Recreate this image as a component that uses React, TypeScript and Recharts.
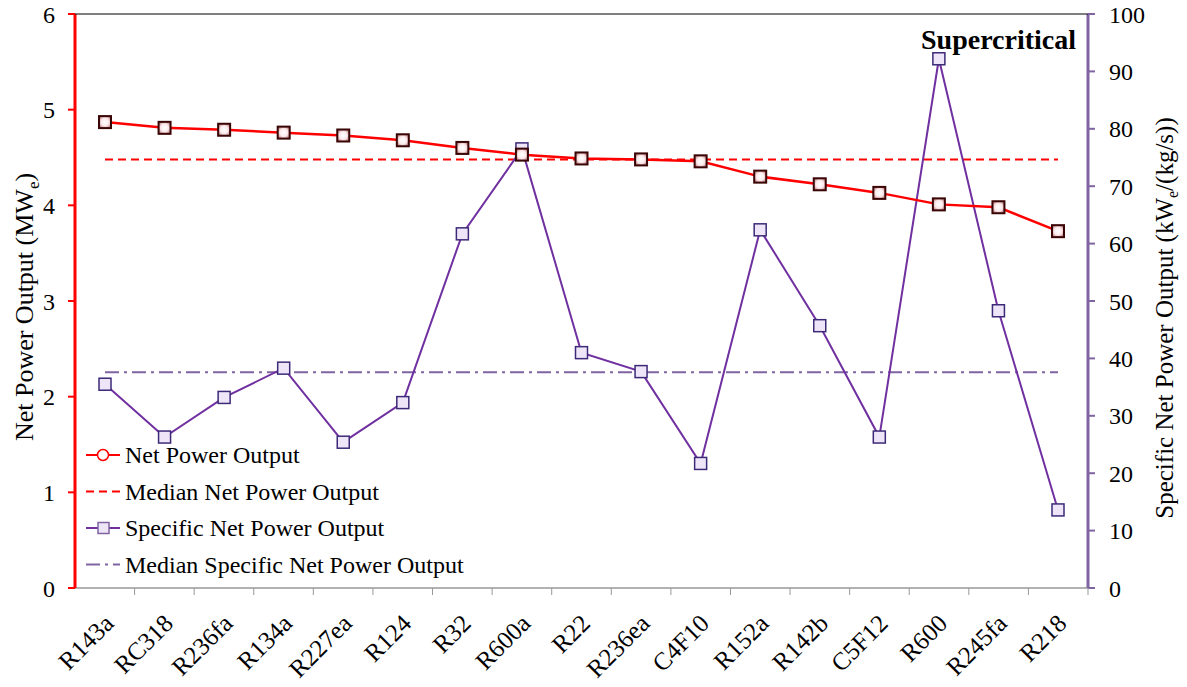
import React from 'react';
import { ComposedChart, Line, XAxis, YAxis } from 'recharts';

const categories = ['R143a','RC318','R236fa','R134a','R227ea','R124','R32','R600a','R22','R236ea','C4F10','R152a','R142b','C5F12','R600','R245fa','R218'];
const netPower = [4.87,4.81,4.79,4.76,4.73,4.68,4.60,4.53,4.49,4.48,4.46,4.30,4.22,4.13,4.01,3.98,3.73];
const specificPower = [35.5,26.3,33.2,38.3,25.4,32.3,61.7,76.5,41.0,37.7,21.7,62.4,45.7,26.3,92.2,48.3,13.6];
const medianNet = 4.48;
const medianSpecific = 37.6;
const leftTicks = [0,1,2,3,4,5,6];
const rightTicks = [0,10,20,30,40,50,60,70,80,90,100];
const legendLabels = ['Net Power Output', 'Median Net Power Output', 'Specific Net Power Output', 'Median Specific Net Power Output'];

const data = categories.map((c, i) => ({
  name: c,
  net: netPower[i],
  spec: specificPower[i],
  medNet: medianNet,
  medSpec: medianSpecific,
}));

const FONT = '"Liberation Serif", "Times New Roman", serif';
const RED = '#FF0000';
const PURPLE = '#7030A0';
const LAV = '#8064A2';

const NetDot = (props: any) => {
  const { cx, cy, index } = props;
  if (cx == null || cy == null) return null;
  return (
    <rect key={`n${index}`} x={cx - 6} y={cy - 6} width={12} height={12} fill="url(#netGrad)" stroke="#3a0505" strokeWidth={2} />
  );
};
const SpecDot = (props: any) => {
  const { cx, cy, index } = props;
  if (cx == null || cy == null) return null;
  return (
    <rect key={`s${index}`} x={cx - 6} y={cy - 6} width={12} height={12} fill="#EEE6F8" stroke="#3c2a78" strokeWidth={1.5} />
  );
};

const XTick = (props: any) => {
  const { x, y, payload } = props;
  const ax = x + 10;
  const ay = y + 29;
  return (
    <text x={ax} y={ay} transform={`rotate(-45, ${ax}, ${ay})`} textAnchor="end" fontFamily={FONT} fontSize={25} fill="#000">
      {payload.value}
    </text>
  );
};

export default function App() {
  const ys = [455, 491.5, 528, 564.5];
  return (
    <div style={{ position: 'absolute', left: 0, top: 0, width: 1187, height: 687, background: '#fff' }}>
      <ComposedChart width={1187} height={687} data={data} margin={{ top: 14, right: 0, left: 0, bottom: 0 }}>
        <defs>
          <radialGradient id="netGrad" cx="50%" cy="50%" r="60%">
            <stop offset="0%" stopColor="#ffffff" />
            <stop offset="55%" stopColor="#fbe9ea" />
            <stop offset="100%" stopColor="#b8767b" />
          </radialGradient>
        </defs>
        <XAxis dataKey="name" height={99} interval={0} padding={{ left: 30, right: 30 }} tick={<XTick />} axisLine={{ stroke: '#999', strokeWidth: 1.5 }} tickLine={false} />
        <YAxis yAxisId="left" domain={[0, 6]} ticks={leftTicks} width={75} axisLine={{ stroke: RED, strokeWidth: 3 }} tickLine={{ stroke: RED, strokeWidth: 2 }} tickSize={7} tick={{ fontFamily: FONT, fontSize: 24, fill: '#000' }} tickMargin={13} />
        <YAxis yAxisId="right" orientation="right" domain={[0, 100]} ticks={rightTicks} width={99} axisLine={{ stroke: LAV, strokeWidth: 3 }} tickLine={{ stroke: LAV, strokeWidth: 2 }} tickSize={7} tick={{ fontFamily: FONT, fontSize: 24, fill: '#000', textAnchor: 'start' }} tickMargin={14} />
        <Line yAxisId="left" dataKey="medNet" stroke={RED} strokeWidth={2} strokeDasharray="8 5" dot={false} isAnimationActive={false} />
        <Line yAxisId="right" dataKey="medSpec" stroke={LAV} strokeWidth={2} strokeDasharray="14 5 3 5" dot={false} isAnimationActive={false} />
        <Line yAxisId="right" dataKey="spec" stroke={PURPLE} strokeWidth={2} dot={<SpecDot />} isAnimationActive={false} />
        <Line yAxisId="left" dataKey="net" stroke={RED} strokeWidth={2.5} dot={<NetDot />} isAnimationActive={false} />
      </ComposedChart>
      <svg width={1187} height={687} style={{ position: 'absolute', left: 0, top: 0, pointerEvents: 'none' }}>
        <line x1={75} x2={1088} y1={14} y2={14} stroke="#000" strokeWidth={1} />
        {categories.map((c, i) => {
          const tx = 75 + ((1088 - 75) / categories.length) * i;
          return i === 0 ? null : <line key={c} x1={tx} x2={tx} y1={588} y2={595} stroke="#999" strokeWidth={1} />;
        })}
        <line x1={1088} x2={1088} y1={588} y2={595} stroke="#999" strokeWidth={1} />
        <text x={1076} y={49} textAnchor="end" fontFamily={FONT} fontWeight="bold" fontSize={28} fill="#000">Supercritical</text>
        <text transform="translate(33, 307) rotate(-90)" textAnchor="middle" fontFamily={FONT} fontSize={26} fill="#000">
          Net Power Output (MW<tspan fontSize={17} dy={6}>e</tspan><tspan dy={-6}>)</tspan>
        </text>
        <text transform="translate(1173, 318) rotate(-90)" textAnchor="middle" fontFamily={FONT} fontSize={25} fill="#000">
          Specific Net Power Output (kW<tspan fontSize={16} dy={5}>e</tspan><tspan dy={-5}>/(kg/s))</tspan>
        </text>
        <g>
          <line x1={86} x2={120} y1={ys[0]} y2={ys[0]} stroke={RED} strokeWidth={2} />
          <circle cx={103} cy={ys[0]} r={5.5} fill="#fff" stroke={RED} strokeWidth={1.5} />
          <line x1={86} x2={120} y1={ys[1]} y2={ys[1]} stroke={RED} strokeWidth={2} strokeDasharray="8 5" />
          <line x1={86} x2={120} y1={ys[2]} y2={ys[2]} stroke={PURPLE} strokeWidth={2} />
          <rect x={98} y={ys[2] - 5.5} width={11} height={11} fill="#EEE6F8" stroke={LAV} strokeWidth={1.5} />
          <line x1={86} x2={120} y1={ys[3]} y2={ys[3]} stroke={LAV} strokeWidth={2} strokeDasharray="14 5 3 5" />
          {legendLabels.map((t, i) => (
            <text key={t} x={125} y={ys[i] + 8} fontFamily={FONT} fontSize={24} fill="#000">{t}</text>
          ))}
        </g>
      </svg>
    </div>
  );
}
